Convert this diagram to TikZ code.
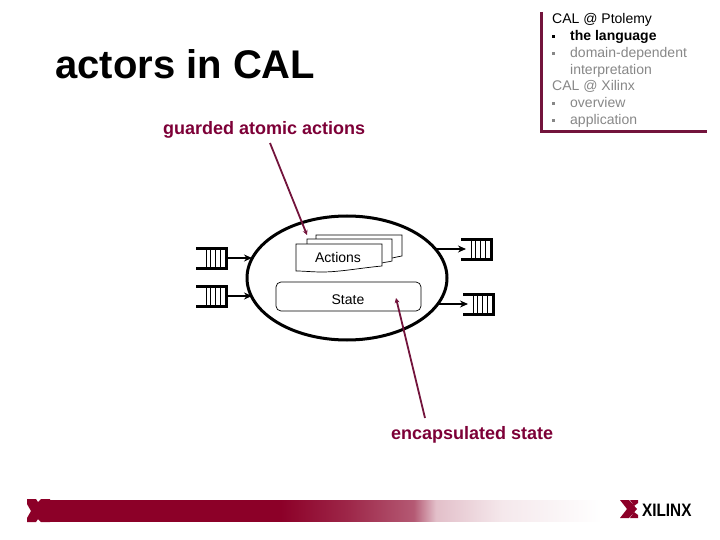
\documentclass[tikz,border=0pt]{standalone}
\usepackage{fontspec}
\setmainfont{Liberation Sans}
\usetikzlibrary{positioning, calc, arrows.meta}
\definecolor{xilinxred}{RGB}{140,0,40}
\definecolor{boxred}{RGB}{115,20,60}
\definecolor{calloutred}{RGB}{125,0,55}
\definecolor{greytext}{RGB}{135,135,135}
\pgfdeclarehorizontalshading{barfade}{100bp}{
  color(0bp)=(xilinxred); color(46bp)=(xilinxred); color(52bp)=(xilinxred!85!white);
  color(58bp)=(xilinxred!65!white); color(60bp)=(xilinxred!25!white);
  color(66bp)=(xilinxred!9!white); color(75bp)=(white); color(100bp)=(white)}
\newcommand{\menubullet}{\rule[3pt]{3pt}{3pt}}
\tikzset{
  headline/.style={anchor=base west, font=\bfseries\fontsize{40}{40}\selectfont},
  callout/.style={anchor=base west, text=calloutred, font=\bfseries\fontsize{18}{18}\selectfont},
  menuline/.style={anchor=base west, inner sep=0pt, font=\fontsize{14}{14}\selectfont},
  sheet/.style={draw, fill=white, line width=0.7pt},
  rail/.style={line width=3pt},
  feed/.style={line width=1.2pt, -{Stealth[length=8pt, width=7pt]}},
  pointer/.style={draw=boxred, line width=1.8pt, -{Stealth[length=5pt, width=5pt]}},
  logomark/.style={fill=xilinxred}
}
\begin{document}
\begin{tikzpicture}[x=1pt, y=-1pt]
  \useasboundingbox (0,0) rectangle (720,540);

  \node[headline, inner sep=0pt] (title) at (55,79) {actors in CAL};
  \node[callout, inner sep=0pt] (guarded) at (163,135) {guarded atomic actions};
  \node[callout, inner sep=0pt] (encaps) at (391,439) {encapsulated state};

  % menu corner
  \draw[boxred, line width=3pt] (541,12) -- (541,132) -- (707,132);
  \node[menuline] (m1) at (552,24) {CAL @ Ptolemy};
  \node[menuline] (m2) at (552,41) {\menubullet};
  \node[menuline] (m2t) at (570,41) {\textbf{the language}};
  \node[menuline, text=greytext] (m3) at (552,58) {\menubullet};
  \node[menuline, text=greytext] (m3t) at (570,58) {domain-dependent};
  \node[menuline, text=greytext] (m4t) at (570,75) {interpretation};
  \node[menuline, text=greytext] (m5) at (552,91) {CAL @ Xilinx};
  \node[menuline, text=greytext] (m6) at (552,108) {\menubullet};
  \node[menuline, text=greytext] (m6t) at (570,108) {overview};
  \node[menuline, text=greytext] (m7) at (552,125) {\menubullet};
  \node[menuline, text=greytext] (m7t) at (570,125) {application};

  % actor
  \draw[line width=3pt] (347,278) ellipse (100 and 62);
  \coordinate (inA) at (252,258);
  \coordinate (inB) at (252,296);
  \coordinate (outA) at (436,249);
  \coordinate (outB) at (437,304);

  % action sheets
  \draw[sheet] (316,235) -- (402,235) -- (402,256) .. controls (396,257) and (393,258) .. (392,258) -- (316,258) -- cycle;
  \draw[sheet] (307,239) -- (392,239) -- (392,261) .. controls (389,262) and (385,262) .. (382,263) -- (307,263) -- cycle;
  \draw[sheet] (296,244) -- (382,244) -- (382,266) .. controls (360,268) and (340,272) .. (322,272)
    .. controls (312,272) and (304,271) .. (296,271) -- cycle;
  \node[font=\fontsize{14}{14}\selectfont] (actions) at (338,257) {Actions};

  \draw[line width=0.7pt, rounded corners=5pt] (276,282) rectangle (421,311);
  \node[font=\fontsize{14}{14}\selectfont] (statelabel) at (348,300) {State};

  % queues
  \foreach \qx/\qy/\qname in {196/248/qA, 196/286/qB, 461/239/qC, 463/294/qD} {
    \coordinate (\qname) at (\qx,\qy);
    \draw[rail] (\qx,\qy) -- ++(30,0) -- ++(0,20) -- ++(-30,0);
    \foreach \i in {0,1,2,3}
      \draw[line width=1pt] (\qx+10+4.7*\i,\qy) -- ++(0,20);
  }
  \coordinate (qAe) at (227,258);
  \coordinate (qBe) at (227,296);
  \coordinate (qCe) at (466,249);
  \coordinate (qDe) at (468,304);
  \draw[feed] (qAe) -- (inA);
  \draw[feed] (qBe) -- (inB);
  \draw[feed] (outA) -- (qCe);
  \draw[feed] (outB) -- (qDe);

  % pointers
  \coordinate (gFrom) at (270,143);
  \coordinate (gTo) at (307,235);
  \coordinate (eFrom) at (425,418);
  \coordinate (eTo) at (396,298);
  \draw[pointer] (gFrom) -- (gTo);
  \draw[pointer] (eFrom) -- (eTo);

  % footer
  \shade[shading=barfade] (48,500) rectangle (602,521);
  \fill[logomark] (27,499) -- (36,499) -- (38,502) -- (41,499) -- (50,499) -- (50,522) -- (41,522) -- (38,519) -- (36,522) -- (27,522)
    -- (27,518) -- (31,511) -- (27,504) -- cycle;
  \fill[logomark] (620,500) -- (629,500) -- (637,509) -- (629,518) -- (620,518) -- (627,509) -- cycle;
  \fill[logomark] (630,500) -- (638,500) -- (638,503) -- (634,506) -- cycle;
  \fill[logomark] (630,518) -- (638,518) -- (638,515) -- (634,512) -- cycle;
  \node[anchor=base west, inner sep=0pt, xscale=0.85, font=\bfseries\fontsize{18}{18}\selectfont] (logo) at (642,516) {XILINX};
\end{tikzpicture}
\end{document}
